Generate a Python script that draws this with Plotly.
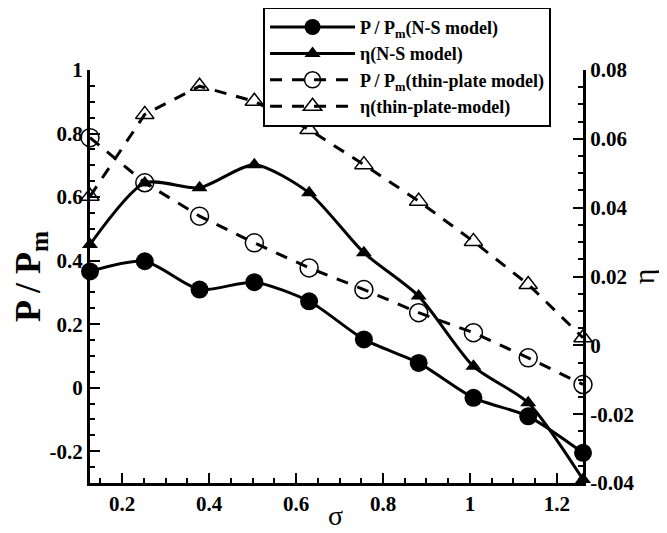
import plotly.graph_objects as go

sigma = [0.126, 0.252, 0.378, 0.504, 0.630, 0.756, 0.882, 1.008, 1.134, 1.260]
p_ns = [0.366, 0.398, 0.309, 0.332, 0.272, 0.152, 0.078, -0.032, -0.090, -0.205]
eta_ns = [0.0293, 0.0472, 0.0458, 0.0525, 0.0443, 0.0269, 0.0143, -0.0061, -0.0167, -0.0390]
p_tp = [0.787, 0.645, 0.540, 0.456, 0.377, 0.309, 0.236, 0.173, 0.094, 0.010]
eta_tp = [0.0433, 0.0671, 0.0753, 0.0709, 0.0627, 0.0525, 0.0419, 0.0302, 0.0177, 0.0022]

left_ticks = [-0.2, 0, 0.2, 0.4, 0.6, 0.8, 1]
left_text = ["-0.2", "0", "0.2", "0.4", "0.6", "0.8", "1"]
right_ticks = [-0.04, -0.02, 0, 0.02, 0.04, 0.06, 0.08]
right_text = ["-0.04", "-0.02", "0", "0.02", "0.04", "0.06", "0.08"]
x_ticks = [0.2, 0.4, 0.6, 0.8, 1, 1.2]
x_text = ["0.2", "0.4", "0.6", "0.8", "1", "1.2"]

FONT = "Liberation Serif"

fig = go.Figure()
fig.add_trace(go.Scatter(
    x=sigma, y=p_ns, name="P / P<sub>m</sub>(N-S model)", mode="lines+markers",
    line=dict(color="black", width=3, shape="spline", smoothing=0.7),
    marker=dict(symbol="circle", size=18, color="black"), cliponaxis=False))
fig.add_trace(go.Scatter(
    x=sigma, y=eta_ns, name="η(N-S model)", mode="lines+markers", yaxis="y2",
    line=dict(color="black", width=3, shape="spline", smoothing=0.7),
    marker=dict(symbol="triangle-up", size=14, color="black"), cliponaxis=False))
fig.add_trace(go.Scatter(
    x=sigma, y=p_tp, name="P / P<sub>m</sub>(thin-plate model)", mode="lines+markers",
    line=dict(color="black", width=3, dash="12px,10px"),
    marker=dict(symbol="circle-open", size=18, color="black", line=dict(width=1.5)),
    cliponaxis=False))
fig.add_trace(go.Scatter(
    x=sigma, y=eta_tp, name="η(thin-plate-model)", mode="lines+markers", yaxis="y2",
    line=dict(color="black", width=3, dash="12px,10px"),
    marker=dict(symbol="triangle-up-open", size=16, color="black", line=dict(width=1.5)),
    cliponaxis=False))

axis_common = dict(
    showline=True, linecolor="black", linewidth=3, ticks="inside", ticklen=10,
    tickwidth=2, tickcolor="black", showgrid=False, zeroline=False,
    tickfont=dict(family=FONT, size=21, color="black", weight="bold"),
)

fig.update_layout(
    width=659, height=525,
    margin=dict(l=82, r=84, t=62, b=50, autoexpand=False),
    paper_bgcolor="white", plot_bgcolor="white",
    font=dict(family=FONT, color="black"),
    xaxis=dict(range=[0.126, 1.26], tickvals=x_ticks, ticktext=x_text,
               minor=dict(dtick=0.05, tick0=0, ticks="inside", ticklen=5, tickwidth=1.5, tickcolor="black"),
               **axis_common),
    yaxis=dict(range=[-0.3, 1], tickvals=left_ticks, ticktext=left_text,
               minor=dict(dtick=0.05, tick0=0, ticks="inside", ticklen=5, tickwidth=1.5, tickcolor="black"),
               title=dict(text="P / P<sub>m</sub>", font=dict(family=FONT, size=36, color="black", weight="bold"), standoff=4),
               **axis_common),
    yaxis2=dict(range=[-0.04, 0.08], tickvals=right_ticks, ticktext=right_text, overlaying="y", side="right",
                minor=dict(dtick=0.005, tick0=0, ticks="inside", ticklen=5, tickwidth=1.5, tickcolor="black"),
                title=dict(text="η", font=dict(family=FONT, size=30, color="black"), standoff=0),
                **axis_common),
    legend=dict(x=0.351, y=1.153, xanchor="left", yanchor="top",
                bgcolor="white", bordercolor="black", borderwidth=2,
                font=dict(family=FONT, size=18, color="black", weight="bold"),
                tracegroupgap=0, itemwidth=85),
    annotations=[dict(text="σ", xref="paper", yref="paper", x=0.497, y=-0.0775,
                      xanchor="center", yanchor="middle", showarrow=False,
                      font=dict(family=FONT, size=28, color="black"))],
    showlegend=True,
)

fig.write_html("out.html")
